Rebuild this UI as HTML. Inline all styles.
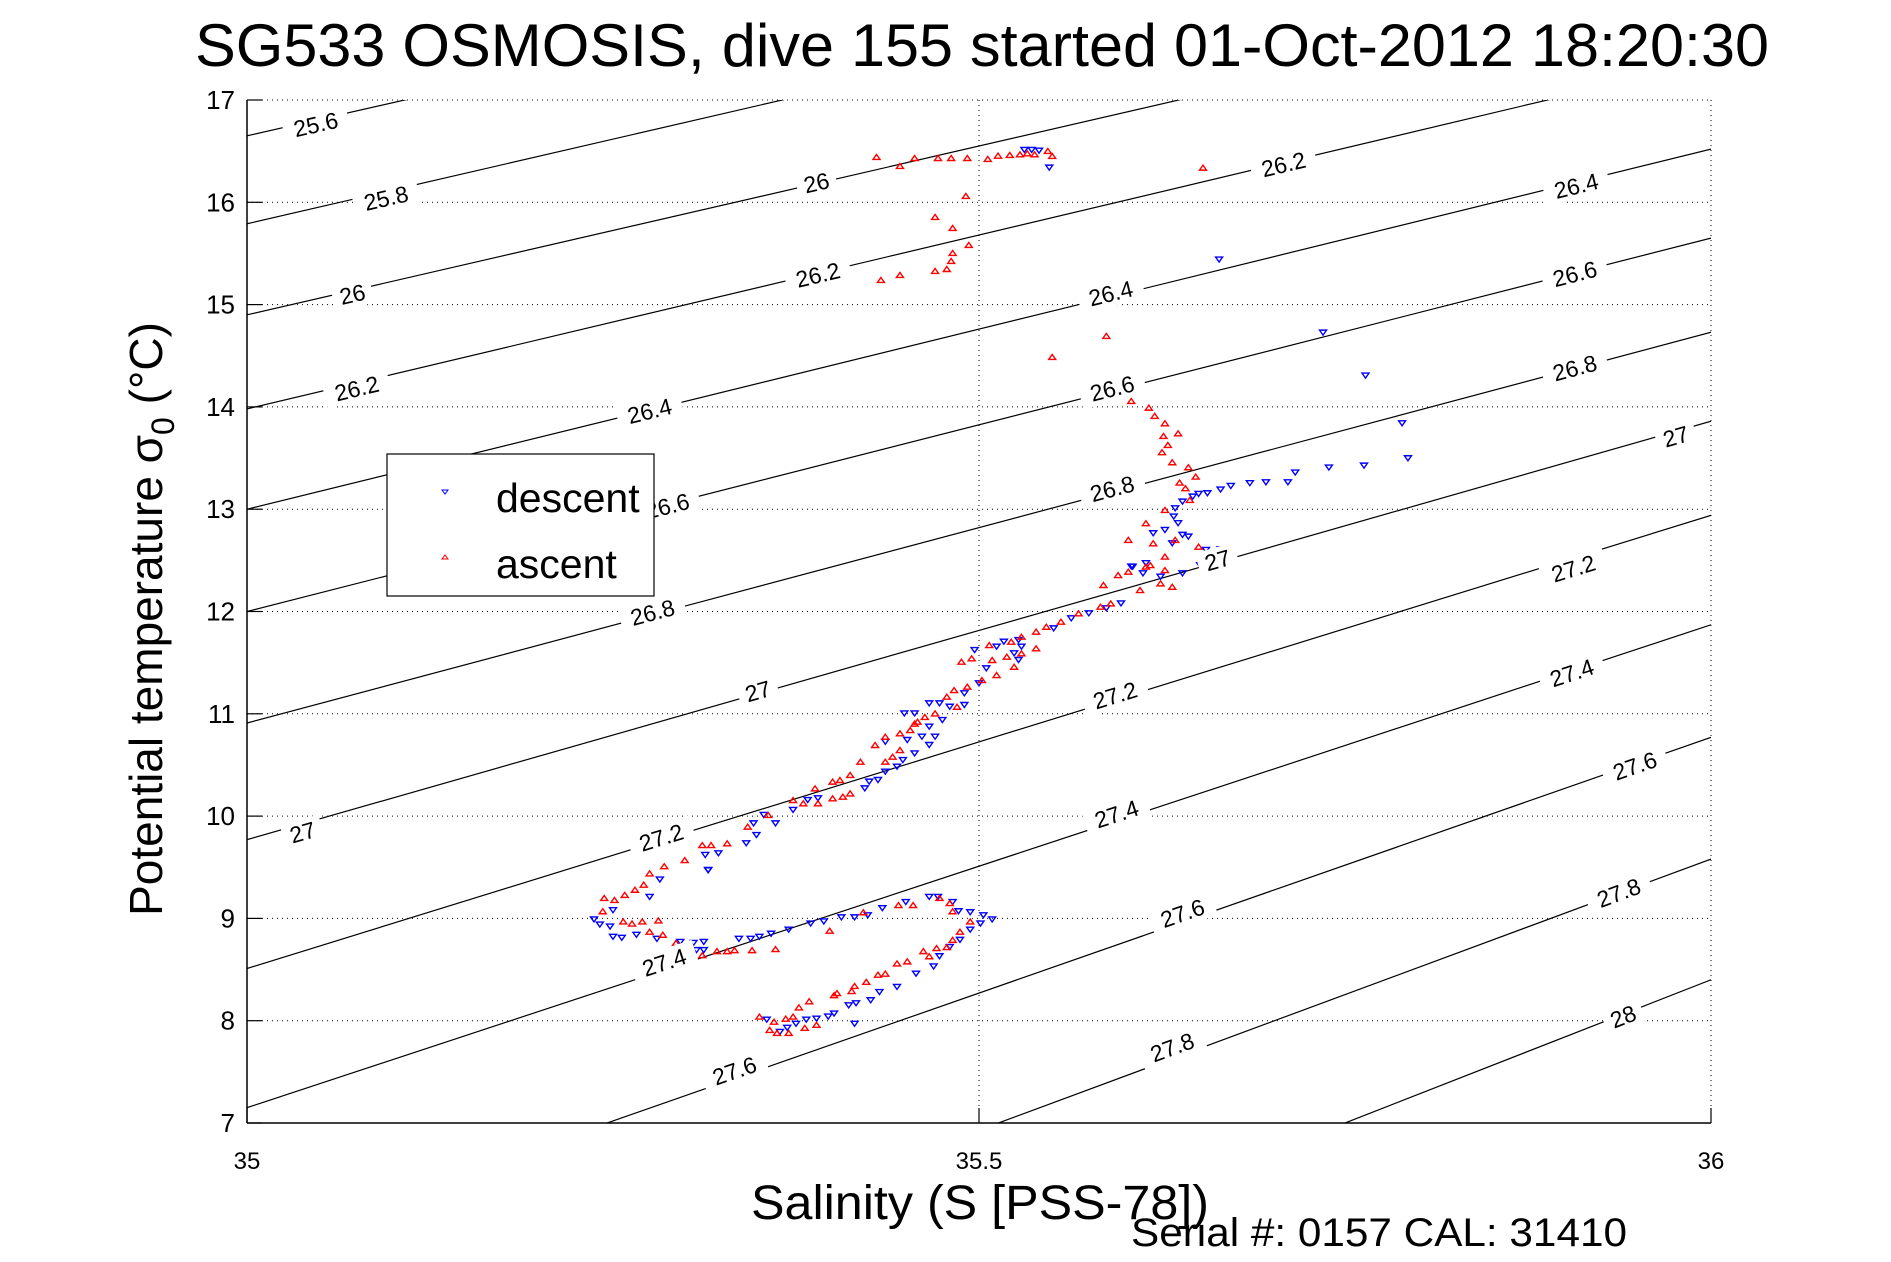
<!DOCTYPE html>
<html>
<head>
<meta charset="utf-8">
<style>
  html,body{margin:0;padding:0;background:#fff;width:1891px;height:1262px;overflow:hidden;}
  svg{display:block;font-family:"Liberation Sans",Arial,sans-serif;}
</style>
</head>
<body>
<svg id="chart" width="1891" height="1262" viewBox="0 0 1891 1262" xmlns="http://www.w3.org/2000/svg">
  <rect x="0" y="0" width="1891" height="1262" fill="#fff"/>
  <text x="982" y="66" text-anchor="middle" font-size="60" textLength="1574" lengthAdjust="spacingAndGlyphs">SG533 OSMOSIS, dive 155 started 01-Oct-2012 18:20:30</text>
  <defs><clipPath id="plotclip"><rect x="247" y="100" width="1464" height="1023"/></clipPath></defs>
  <g id="grid"></g>
  <g id="contours" clip-path="url(#plotclip)"></g>
  <g id="descent" clip-path="url(#plotclip)"></g>
  <g id="ascent" clip-path="url(#plotclip)"></g>
  <g id="clabels"></g>
  <g id="axes"></g>
  <g>
    <rect x="387" y="454" width="267" height="142" fill="#fff" stroke="#000" stroke-width="1.2"/>
    <polygon points="442,490 448,490 445,494" fill="none" stroke="#0000ff" stroke-width="1"/>
    <text x="496" y="512" font-size="41">descent</text>
    <polygon points="442,559 448,559 445,555" fill="none" stroke="#ff0000" stroke-width="1"/>
    <text x="496" y="578" font-size="41">ascent</text>
  </g>
  <text transform="translate(162,619) rotate(-90)" text-anchor="middle" font-size="46">Potential temperature σ<tspan font-size="32" dy="12">0</tspan><tspan dy="-12"> (°C)</tspan></text>
  <text x="980" y="1219" text-anchor="middle" font-size="48" textLength="458" lengthAdjust="spacingAndGlyphs">Salinity (S [PSS-78])</text>
  <text x="1131" y="1246" font-size="40" textLength="496" lengthAdjust="spacingAndGlyphs">Serial #: 0157  CAL: 31410</text>
</svg>
<script>
// ---- data ----
const xTicks = [35, 35.5, 36];
const xTickLabels = ["35", "35.5", "36"];
const yTicks = [7, 8, 9, 10, 11, 12, 13, 14, 15, 16, 17];
const yTickLabels = ["7","8","9","10","11","12","13","14","15","16","17"];

// isopycnal levels: temperature at S=35 and S=36
const sigmaLevels = [25.6, 25.8, 26, 26.2, 26.4, 26.6, 26.8, 27, 27.2, 27.4, 27.6, 27.8, 28];
const sigmaTempAt35 = [16.65, 15.79, 14.90, 13.98, 13.0, 12.0, 10.91, 9.77, 8.51, 7.15, 5.77, 4.28, 2.8];
const sigmaTempAt36 = [19.9, 19.1, 18.2, 17.38, 16.52, 15.65, 14.73, 13.86, 12.94, 11.87, 10.77, 9.58, 8.40];

// contour labels
const cLabelText = ["25.6","25.8","26","26.2","26.4","26.6","26.8","27","27","27.2","27.4","27.6",
  "26","26.2","26.4","26.6","26.8","27","27.2","27.4","27.6","27.8",
  "26.2","26.4","26.6","26.8","27","27.2","27.4","27.6","27.8","28"];
const cLabelS = [35.047,35.095,35.072,35.075,35.275,35.287,35.277,35.349,35.038,35.283,35.285,35.333,
  35.389,35.390,35.590,35.591,35.591,35.663,35.593,35.594,35.639,35.632,
  35.708,35.908,35.907,35.907,35.976,35.906,35.905,35.948,35.937,35.940];
const cLabelT = [16.76,16.04,15.10,14.18,13.96,13.03,11.99,11.22,9.84,9.79,8.57,7.51,
  16.19,15.29,15.11,14.18,13.20,12.50,11.18,10.02,9.05,7.74,
  16.37,16.16,15.30,14.38,13.71,12.42,11.40,10.49,9.25,8.04];

// descent (blue)
const descentS = [35.531,35.536,35.541,35.548,35.664,35.735,35.764,35.789,35.793,35.763,35.739,35.716,35.711,35.696,35.685,35.672,35.665,35.656,35.650,35.646,35.639,35.634,35.633,35.636,35.627,35.619,35.639,35.643,35.632,35.655,35.665,35.670,35.652,35.614,35.604,
  35.605,35.612,35.624,35.639,35.651,35.597,35.587,35.575,35.563,35.551,35.527,35.517,35.529,35.524,35.527,35.497,35.512,35.505,35.500,35.490,35.490,35.480,35.473,35.466,35.456,35.449,35.475,35.466,35.470,35.461,35.451,35.436,35.466,35.456,35.448,35.444,35.436,35.431,35.425,35.422,35.390,35.383,35.373,35.361,35.353,35.346,35.348,35.341,35.322,35.313,35.315,
  35.315,35.282,35.275,35.250,35.237,35.241,35.248,35.250,35.256,35.266,35.280,35.296,35.305,35.312,35.307,35.312,35.336,35.344,35.350,35.358,35.370,35.385,35.394,35.406,35.415,35.424,35.434,35.450,35.466,35.472,35.482,35.486,35.494,35.503,35.509,35.501,35.494,35.487,35.480,35.473,35.469,35.457,35.444,35.432,35.426,35.416,35.411,35.401,35.397,35.389,35.382,35.375,35.369,35.364,35.355,35.415];
const descentT = [16.512,16.512,16.505,16.339,15.440,14.726,14.306,13.840,13.498,13.426,13.407,13.358,13.263,13.263,13.254,13.227,13.192,13.156,13.149,13.123,13.074,13.009,12.928,12.863,12.797,12.765,12.749,12.732,12.667,12.602,12.608,12.615,12.472,12.472,12.439,
  12.438,12.373,12.340,12.373,12.454,12.079,12.031,11.982,11.933,11.835,11.721,11.705,11.656,11.591,11.526,11.623,11.656,11.444,11.298,11.200,11.086,11.069,11.102,11.102,11.004,11.004,10.939,10.874,10.776,10.776,10.744,10.727,10.695,10.613,10.548,10.483,10.434,10.353,10.337,10.271,10.174,10.157,10.060,9.929,10.011,9.929,9.815,9.734,9.636,9.620,9.473,
  9.47,9.38,9.21,9.08,8.99,8.94,8.92,8.82,8.81,8.84,8.80,8.77,8.76,8.69,8.69,8.77,8.80,8.80,8.82,8.85,8.89,8.95,8.97,9.01,9.01,9.03,9.10,9.16,9.21,9.21,9.16,9.07,9.06,9.03,8.99,8.95,8.89,8.79,8.72,8.63,8.53,8.46,8.33,8.28,8.20,8.17,8.15,8.07,8.04,8.02,8.01,7.97,7.93,7.89,8.01,7.97];

// ascent (red)
const ascentS = [35.362,35.370,35.381,35.389,35.357,35.350,35.360,35.368,35.373,35.377,35.384,35.401,35.403,35.413,35.415,35.423,35.431,35.436,35.444,35.451,35.462,35.466,35.471,35.478,35.482,35.487,35.494,35.482,35.480,35.473,35.455,35.445,35.421,35.398,35.361,35.345,35.333,35.328,35.321,35.311,35.304,35.296,35.293,35.284,35.275,35.281,35.270,35.263,35.257,35.243,35.251,35.244,35.258,35.265,35.271,35.275,35.285,35.299,
  35.311,35.317,35.328,35.342,35.356,35.373,35.380,35.390,35.400,35.407,35.412,35.388,35.400,35.405,35.412,35.419,35.436,35.441,35.446,35.429,35.436,35.446,35.453,35.458,35.456,35.463,35.470,35.485,35.478,35.483,35.492,35.502,35.512,35.524,35.488,35.495,35.509,35.519,35.529,35.539,35.507,35.522,35.529,35.539,35.546,35.556,35.568,35.583,35.590,35.632,35.624,35.610,35.627,35.617,35.602,35.595,35.585,
  35.614,35.627,35.650,35.634,35.619,35.602,35.614,35.627,35.644,35.641,35.637,35.648,35.643,35.632,35.625,35.629,35.636,35.626,35.627,35.620,35.616,35.604,35.599,35.550,35.587,35.653,
  35.433,35.446,35.470,35.478,35.481,35.482,35.493,35.482,35.470,35.491,35.430,35.446,35.456,35.472,35.481,35.492,35.506,35.513,35.521,35.528,35.533,35.538,35.547,35.550];
const ascentT = [7.88,7.88,7.93,7.96,7.91,8.04,7.99,8.02,8.04,8.13,8.19,8.25,8.27,8.29,8.34,8.38,8.45,8.46,8.56,8.58,8.68,8.63,8.71,8.72,8.79,8.87,8.97,9.07,9.15,9.20,9.13,9.13,9.06,8.88,8.70,8.69,8.69,8.68,8.68,8.64,8.63,8.69,8.76,8.84,8.87,8.98,8.97,8.95,8.97,9.07,9.18,9.20,9.23,9.28,9.33,9.44,9.51,9.57,
  9.717,9.717,9.734,9.897,10.011,10.157,10.125,10.125,10.174,10.190,10.222,10.271,10.337,10.353,10.402,10.532,10.532,10.581,10.646,10.695,10.776,10.809,10.841,10.923,10.904,10.969,11.004,11.069,11.167,11.232,11.265,11.330,11.379,11.460,11.509,11.542,11.526,11.558,11.591,11.640,11.672,11.705,11.754,11.803,11.851,11.900,11.982,12.047,12.079,12.242,12.275,12.210,12.405,12.454,12.389,12.356,12.259,
  12.439,12.537,12.634,12.700,12.667,12.700,12.863,12.993,13.091,13.205,13.260,13.319,13.410,13.459,13.557,13.628,13.742,13.716,13.840,13.912,13.993,14.058,14.133,14.488,14.694,16.339,
  15.241,15.290,15.329,15.348,15.427,15.505,15.583,15.749,15.857,16.062,16.443,16.355,16.433,16.433,16.433,16.433,16.424,16.456,16.463,16.469,16.479,16.469,16.502,16.453];

// ---- scales ----
const X0 = 247, X1 = 1711, Y0 = 1123, Y1 = 100;
const sx = s => X0 + (s - 35) / (36 - 35) * (X1 - X0);
const sy = t => Y0 - (t - 7) / (17 - 7) * (Y0 - Y1);
const NS = "http://www.w3.org/2000/svg";
function mk(tag, attrs, parent) {
  const e = document.createElementNS(NS, tag);
  for (const k in attrs) e.setAttribute(k, attrs[k]);
  parent.appendChild(e);
  return e;
}

// grid
const grid = document.getElementById('grid');
yTicks.forEach((t, i) => {
  const l = mk('line', {x1: X0, x2: X1, y1: sy(t), y2: sy(t), stroke: '#000', 'stroke-width': 1, 'stroke-dasharray': '1,4'}, grid);
  
  
});
xTicks.forEach((s, i) => {
  const l = mk('line', {x1: sx(s), x2: sx(s), y1: Y1, y2: Y0, stroke: '#000', 'stroke-width': 1, 'stroke-dasharray': '1,4'}, grid);
  
  
});

// contours
const cg = document.getElementById('contours');
sigmaLevels.forEach((lv, i) => {
  const l = mk('line', {x1: sx(35), y1: sy(sigmaTempAt35[i]), x2: sx(36), y2: sy(sigmaTempAt36[i]), stroke: '#000', 'stroke-width': 1.2}, cg);
  
  
});

// contour labels
const lg = document.getElementById('clabels');
cLabelText.forEach((txt, i) => {
  const lvl = parseFloat(txt);
  const li = sigmaLevels.indexOf(lvl);
  const k = li >= 0 ? (sigmaTempAt36[li] - sigmaTempAt35[li]) : 4;
  const ang = -Math.atan((k * (Y0 - Y1) / 10) / (X1 - X0)) * 180 / Math.PI;
  const x = sx(cLabelS[i]), y = sy(cLabelT[i]);
  const g = mk('g', {transform: `translate(${x},${y}) rotate(${ang})`}, lg);
  
  
  const w = txt.length * 13 + 14;
  mk('rect', {x: -w / 2, y: -13, width: w, height: 26, fill: '#fff'}, g);
  const t = mk('text', {x: 0, y: 8, 'text-anchor': 'middle', 'font-size': 23}, g);
  t.textContent = txt;
});

// markers
function drawSeries(gid, S, T, color, down, name) {
  const g = document.getElementById(gid);
  for (let i = 0; i < S.length; i++) {
    const x = sx(S[i]), y = sy(T[i]);
    const pts = down ? `${x-3.5},${y-2.5} ${x+3.5},${y-2.5} ${x},${y+2.5}` : `${x-3.5},${y+2.5} ${x+3.5},${y+2.5} ${x},${y-2.5}`;
    const p = mk('polygon', {points: pts, fill: 'none', stroke: color, 'stroke-width': 1.4}, g);
    
    
  }
}
drawSeries('descent', descentS, descentT, '#0000ff', true, 'descent-point');
drawSeries('ascent', ascentS, ascentT, '#ff0000', false, 'ascent-point');

// axes
const ax = document.getElementById('axes');
const la = mk('line', {x1: X0, y1: Y1, x2: X0, y2: Y0, stroke: '#000', 'stroke-width': 1.5}, ax);


const ba = mk('line', {x1: X0, y1: Y0, x2: X1, y2: Y0, stroke: '#000', 'stroke-width': 1.5}, ax);


yTicks.forEach((t, i) => {
  mk('line', {x1: X0, x2: X0 + 15, y1: sy(t), y2: sy(t), stroke: '#000', 'stroke-width': 1.2}, ax);
  const tx = mk('text', {x: 235, y: sy(t) + 9, 'text-anchor': 'end', 'font-size': 26}, ax);
  
  
  tx.textContent = yTickLabels[i];
});
xTicks.forEach((s, i) => {
  mk('line', {x1: sx(s), x2: sx(s), y1: Y0, y2: Y0 - 15, stroke: '#000', 'stroke-width': 1.2}, ax);
  const tx = mk('text', {x: sx(s), y: 1169, 'text-anchor': 'middle', 'font-size': 24}, ax);
  
  
  tx.textContent = xTickLabels[i];
});
</script>
</body>
</html>
